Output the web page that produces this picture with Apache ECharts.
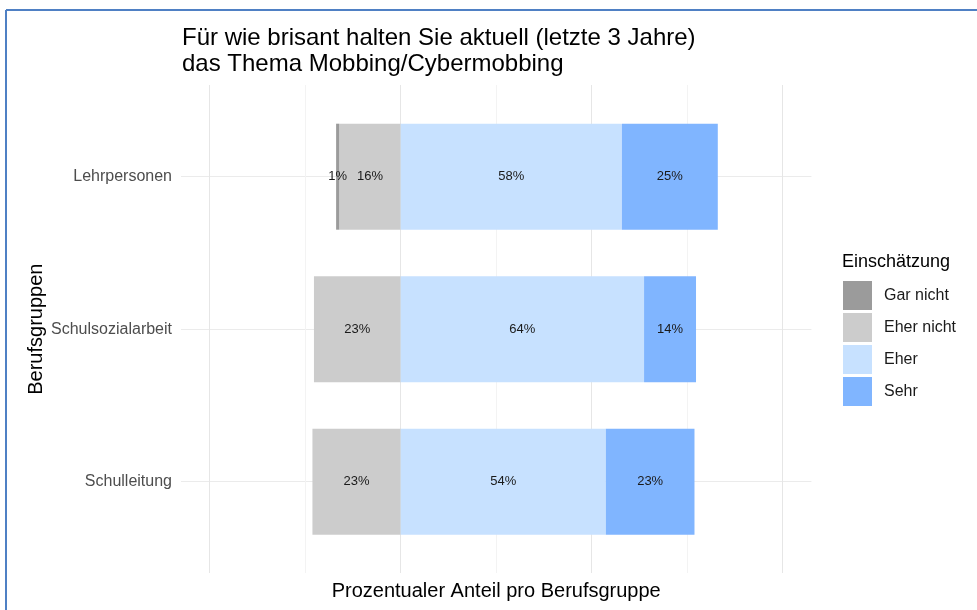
<!DOCTYPE html>
<html>
<head>
<meta charset="utf-8">
<script src="https://cdn.jsdelivr.net/npm/echarts@6/dist/echarts.min.js"></script>
<style>html,body{margin:0;padding:0;background:#fff;}#c{width:977px;height:610px;}</style>
</head>
<body>
<div id="c"></div>
<script>
const categories = ['Lehrpersonen', 'Schulsozialarbeit', 'Schulleitung'];
const seriesNames = ['Gar nicht', 'Eher nicht', 'Eher', 'Sehr'];
const garNicht = [0.8, 0, 0];
const eherNicht = [16.1, 22.7, 23.1];
const eher = [57.9, 63.7, 53.7];
const sehr = [25.1, 13.6, 23.2];
const gridTicks = [-50, -25, 0, 25, 50, 75, 100];

const FONT = 'Liberation Sans, Arial, sans-serif';
const colors = {'Gar nicht': '#9b9b9b', 'Eher nicht': '#cccccc', 'Eher': '#c7e1ff', 'Sehr': '#80b5ff'};

function mkSeries(name, vals, sign) {
  return {
    name: name,
    type: 'bar',
    stack: 'total',
    xAxisIndex: 0, yAxisIndex: 0,
    barWidth: 106,
    itemStyle: {color: colors[name]},
    label: {
      show: true, position: 'inside', fontFamily: FONT, fontSize: 13, color: '#1a1a1a',
      formatter: p => { const v = Math.abs(p.value); return v > 0 ? Math.round(v) + '%' : ''; }
    },
    emphasis: {disabled: true},
    data: vals.map(v => sign * v)
  };
}

const chart = echarts.init(document.getElementById('c'), null, {renderer: 'canvas'});
chart.setOption({
  animation: false,
  backgroundColor: '#ffffff',
  textStyle: {fontFamily: FONT},
  title: {
    text: 'Für wie brisant halten Sie aktuell (letzte 3 Jahre)\ndas Thema Mobbing/Cybermobbing',
    left: 182, top: 25, padding: 0,
    textStyle: {fontFamily: FONT, fontSize: 24, fontWeight: 'normal', color: '#000', lineHeight: 26}
  },
  legend: {
    data: seriesNames,
    orient: 'vertical',
    left: 843, top: 281, padding: 0,
    itemWidth: 29, itemHeight: 29, itemGap: 3,
    icon: 'rect',
    selectedMode: false,
    textStyle: {fontFamily: FONT, fontSize: 16, color: '#1a1a1a', padding: [0, 0, 0, 7]}
  },
  grid: [
    {left: 181, right: 165.6, top: 176.7, bottom: 128.3},
    {left: 209.7, right: 194.3, top: 85, bottom: 37}
  ],
  xAxis: [
    {type: 'value', gridIndex: 0, min: -57.5, max: 107.5, show: false},
    {
      type: 'value', gridIndex: 1, min: gridTicks[0], max: gridTicks[gridTicks.length - 1],
      interval: gridTicks[1] - gridTicks[0],
      axisLine: {show: false}, axisTick: {show: false}, axisLabel: {show: false},
      splitLine: {show: true, lineStyle: {color: ['#e6e6e6', '#f3f3f3'], width: 1}},
      name: 'Prozentualer Anteil pro Berufsgruppe',
      nameLocation: 'middle', nameGap: 8,
      nameTextStyle: {fontFamily: FONT, fontSize: 20, color: '#000'}
    }
  ],
  yAxis: [
    {
      type: 'category', gridIndex: 0, data: categories, inverse: true, boundaryGap: false,
      axisLine: {show: false}, axisTick: {show: false},
      axisLabel: {fontFamily: FONT, fontSize: 16, color: '#4d4d4d', margin: 9, interval: 0},
      splitLine: {show: true, lineStyle: {color: '#ebebeb', width: 1}},
      name: 'Berufsgruppen', nameLocation: 'middle', nameGap: 135, nameMoveOverlap: false,
      nameTextStyle: {fontFamily: FONT, fontSize: 20, color: '#000'}
    },
    {type: 'value', gridIndex: 1, show: false, splitLine: {show: false}}
  ],
  graphic: [
    {type: 'text', left: 842, top: 253, style: {text: 'Einschätzung', fontFamily: FONT, fontSize: 18, fill: '#000'}},
    {type: 'line', shape: {x1: 6, y1: 10, x2: 977, y2: 10}, style: {stroke: '#4f80c4', lineWidth: 2}},
    {type: 'line', shape: {x1: 6, y1: 10, x2: 6, y2: 610}, style: {stroke: '#4f80c4', lineWidth: 2}}
  ],
  series: [
    mkSeries('Eher nicht', eherNicht, -1),
    mkSeries('Gar nicht', garNicht, -1),
    mkSeries('Eher', eher, 1),
    mkSeries('Sehr', sehr, 1)
  ]
});
</script>
</body>
</html>
